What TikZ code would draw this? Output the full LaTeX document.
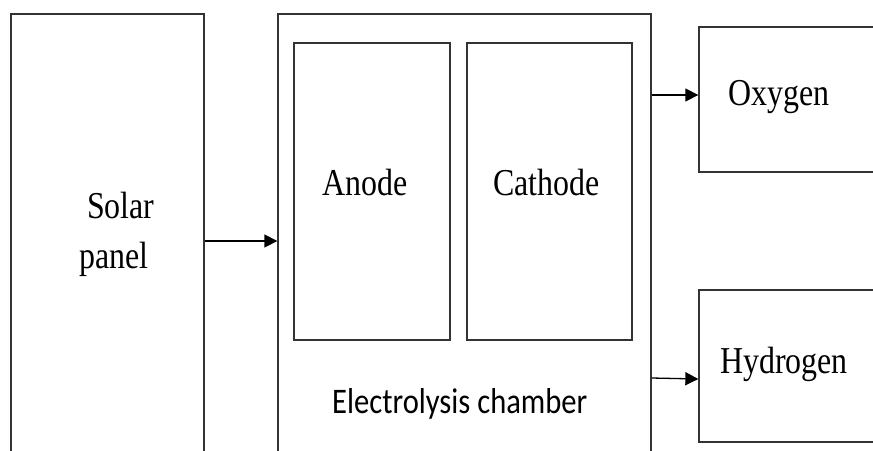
\documentclass[tikz,border=0pt]{standalone}
\usepackage{graphicx}
\usepackage{fontspec}
\setmainfont{Liberation Serif}
\newfontfamily\calib{Carlito}
\usetikzlibrary{arrows.meta}
\tikzset{
  box/.style={draw=black!80, line width=1.3pt, minimum width=#1, inner sep=0pt},
  lbl/.style={anchor=base west, inner sep=0pt, font=\fontsize{38pt}{44pt}\selectfont},
  slbl/.style={anchor=base west, inner sep=0pt, font=\calib\fontsize{36pt}{42pt}\selectfont},
  arr/.style={-{Triangle[length=13pt,width=13pt]}, line width=1.3pt, black}
}
\newcommand{\sq}[1]{\scalebox{0.84}[1]{#1}}
\begin{document}
\begin{tikzpicture}[x=1pt,y=-1pt]
\useasboundingbox (0,0) rectangle (873,450);
\fill[white] (0,0) rectangle (873,450);
\clip (0,0) rectangle (873,450);
% boxes
\node[box=193pt, minimum height=466pt] (solar) at (107.5,247) {};
\node[box=373pt, minimum height=466pt] (chamber) at (464.5,247) {};
\node[box=156pt, minimum height=297pt] (anode) at (372,191.5) {};
\node[box=165pt, minimum height=297pt] (cathode) at (549.5,191.5) {};
\node[box=201pt, minimum height=145pt] (oxygen) at (799.5,99.5) {};
\node[box=201pt, minimum height=152pt] (hydrogen) at (799.5,366) {};
% labels
\node[lbl] (tsolar) at (87,218) {\sq{Solar}};
\node[lbl] (tpanel) at (79,268) {\sq{panel}};
\node[lbl] (tanode) at (322,195) {\sq{Anode}};
\node[lbl] (tcathode) at (493,195) {\sq{Cathode}};
\node[lbl] (toxygen) at (728,105) {\sq{Oxygen}};
\node[lbl] (thydrogen) at (720,373) {\sq{Hydrogen}};
\node[slbl] (tchamber) at (332,413) {\scalebox{0.85}[1]{Electrolysis chamber}};
% connectors
\draw[arr] ([yshift=6pt]solar.east) -- ([yshift=6pt]chamber.west);
\coordinate (o) at ([yshift=4.5pt]oxygen.west);
\draw[arr] (o -| chamber.east) -- (o);
\coordinate (h) at ([yshift=-13pt]hydrogen.west);
\draw[arr] ([yshift=1pt]h -| chamber.east) -- (h);
\end{tikzpicture}
\end{document}
